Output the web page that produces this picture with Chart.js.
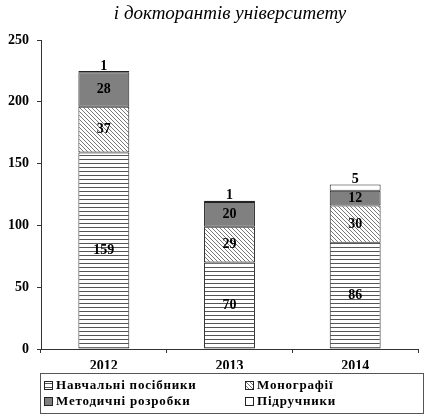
<!DOCTYPE html>
<html>
<head>
<meta charset="utf-8">
<script src="https://cdn.jsdelivr.net/npm/chart.js@4"></script>
<style>
  html, body { margin: 0; padding: 0; background: #fff; }
  #wrap { width: 430px; height: 417px; }
</style>
</head>
<body>
<div id="wrap"><canvas id="chartBar" width="430" height="417"></canvas></div>
<script>
var years = ["2012", "2013", "2014"];
var seriesNames = ["Навчальні посібники", "Монографії", "Методичні розробки", "Підручники"];
var posibnyky = [159, 70, 86];
var monohrafii = [37, 29, 30];
var metodychni = [28, 20, 12];
var pidruchnyky = [1, 1, 5];
var yTicks = [0, 50, 100, 150, 200, 250];
var title = "і докторантів університету";

var serif = "'Liberation Serif', 'Times New Roman', serif";

// fill patterns
function makePattern(w, h, draw) {
  var c = document.createElement("canvas");
  c.width = w; c.height = h;
  var g = c.getContext("2d");
  g.fillStyle = "#fff";
  g.fillRect(0, 0, w, h);
  draw(g);
  return g.createPattern(c, "repeat");
}
var ctx = document.getElementById("chartBar").getContext("2d");
var hLines = makePattern(1, 4, function (g) {
  g.fillStyle = "#555";
  g.fillRect(0, 3, 1, 1);
});
var diag = makePattern(4, 4, function (g) {
  g.fillStyle = "#777";
  for (var i = 0; i < 4; i++) g.fillRect(i, i, 1, 1);
});
var fills = [hLines, diag, "#808080", "#ffffff"];
var values = [posibnyky, monohrafii, metodychni, pidruchnyky];

var labelsPlugin = {
  id: "segLabels",
  afterDatasetsDraw: function (chart) {
    var c = chart.ctx;
    c.save();
    c.font = "bold 14px " + serif;
    c.fillStyle = "#000";
    c.textAlign = "center";
    c.textBaseline = "middle";
    chart.data.datasets.forEach(function (ds, i) {
      chart.getDatasetMeta(i).data.forEach(function (bar, j) {
        var v = ds.data[j];
        var y = v < 6 ? bar.y - 5 : (bar.y + bar.base) / 2;
        c.fillText(String(v), bar.x, y);
      });
    });
    c.restore();
  }
};

var extrasPlugin = {
  id: "extras",
  afterDraw: function (chart) {
    var c = chart.ctx;
    c.save();
    // title
    c.font = "italic 19px " + serif;
    c.fillStyle = "#000";
    c.textAlign = "center";
    c.textBaseline = "middle";
    c.fillText(title, 230, 14);
    // legend box
    c.strokeStyle = "#555";
    c.lineWidth = 1;
    c.strokeRect(40.5, 373.5, 383, 40);
    c.font = "bold 13px " + serif;
    c.letterSpacing = "0.8px";
    c.textAlign = "left";
    var pos = [[44, 385], [245, 385], [44, 401], [245, 401]];
    seriesNames.forEach(function (name, i) {
      var x = pos[i][0], y = pos[i][1];
      c.fillStyle = fills[i];
      c.fillRect(x, y - 4, 9, 9);
      c.strokeStyle = "#222";
      c.strokeRect(x + 0.5, y - 3.5, 8, 8);
      c.fillStyle = "#000";
      c.fillText(name, x + 12, y + 1);
    });
    c.restore();
  }
};

var datasets = seriesNames.map(function (name, i) {
  return {
    label: name,
    data: values[i],
    backgroundColor: fills[i],
    borderColor: "#222",
    borderWidth: 1,
    borderSkipped: false,
    categoryPercentage: 1,
    barPercentage: 0.405
  };
});

var chartBar = new Chart(ctx, {
  type: "bar",
  data: { labels: years, datasets: datasets },
  options: {
    responsive: false,
    animation: false,
    layout: { padding: { top: 40, right: 12, bottom: 48, left: 0 } },
    plugins: { legend: { display: false }, title: { display: false }, tooltip: { enabled: false } },
    scales: {
      x: {
        stacked: true,
        grid: { drawOnChartArea: false, drawTicks: true, tickLength: 4, color: "#333", offset: true },
        border: { color: "#333", width: 1 },
        ticks: { color: "#000", font: { family: serif, size: 14, weight: "bold" }, padding: 5 },
        afterFit: function (s) { s.height = 20; }
      },
      y: {
        stacked: true,
        min: 0,
        max: 250,
        afterBuildTicks: function (s) { s.ticks = yTicks.map(function (v) { return { value: v }; }); },
        grid: { drawOnChartArea: false, drawTicks: true, tickLength: 4, color: "#333" },
        border: { color: "#333", width: 1 },
        ticks: { color: "#000", font: { family: serif, size: 14, weight: "bold" }, padding: 8 },
        afterFit: function (s) { s.width = 41; }
      }
    }
  },
  plugins: [labelsPlugin, extrasPlugin]
});
</script>
</body>
</html>
